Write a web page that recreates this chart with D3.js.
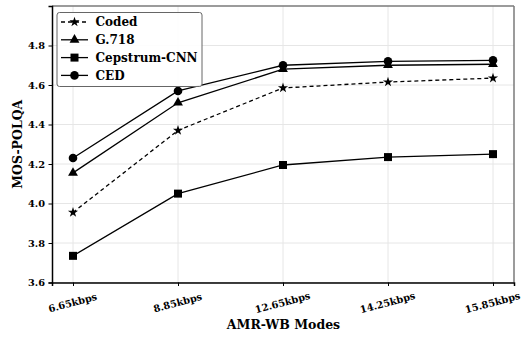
<!DOCTYPE html>
<html>
<head>
<meta charset="utf-8">
<script src="https://cdn.jsdelivr.net/npm/d3@7"></script>
<style>
  html, body { margin: 0; padding: 0; background: #fff; }
  svg { display: block; font-family: "DejaVu Serif", serif; font-weight: bold; }
</style>
</head>
<body>
<svg id="chart" width="531" height="339"></svg>
<script>
// AMR-WB modes on the x axis
const modes = ["6.65kbps", "8.85kbps", "12.65kbps", "14.25kbps", "15.85kbps"];
// MOS-POLQA scores per method
const coded = [3.955, 4.37, 4.585, 4.615, 4.635];
const g718 = [4.155, 4.51, 4.68, 4.70, 4.705];
const cepstrumCnn = [3.735, 4.05, 4.195, 4.235, 4.25];
const ced = [4.23, 4.57, 4.70, 4.72, 4.725];
const yTicks = [3.6, 3.8, 4.0, 4.2, 4.4, 4.6, 4.8];

const series = [
  { name: "Coded", values: coded, marker: "star", dash: "4,3" },
  { name: "G.718", values: g718, marker: "triangle", dash: null },
  { name: "Cepstrum-CNN", values: cepstrumCnn, marker: "square", dash: null },
  { name: "CED", values: ced, marker: "circle", dash: null }
];

const svg = d3.select("#chart");
const m = { left: 52, right: 514, top: 6, bottom: 282.5 };

const x = d3.scalePoint().domain(modes).range([m.left, m.right]).padding(0.2);
const y = d3.scaleLinear().domain([3.6, 5.0]).range([m.bottom, m.top]);

// grid
const grid = svg.append("g");
grid.selectAll(".gx").data(modes).join("line")
  .attr("x1", d => x(d)).attr("x2", d => x(d))
  .attr("y1", m.top).attr("y2", m.bottom)
  .attr("stroke", "#e6e6e6").attr("stroke-width", 1);
grid.selectAll(".gy").data(yTicks).join("line")
  .attr("x1", m.left).attr("x2", m.right)
  .attr("y1", d => y(d)).attr("y2", d => y(d))
  .attr("stroke", "#e6e6e6").attr("stroke-width", 1);

// top / right frame in grey
svg.append("line").attr("x1", m.left).attr("x2", m.right).attr("y1", m.top).attr("y2", m.top)
  .attr("stroke", "#7a7a7a").attr("stroke-width", 1.5);
svg.append("line").attr("x1", m.right).attr("x2", m.right).attr("y1", m.top).attr("y2", m.bottom)
  .attr("stroke", "#7a7a7a").attr("stroke-width", 1.5);

// axes
const xAxis = svg.append("g")
  .attr("transform", `translate(0,${m.bottom})`)
  .call(d3.axisBottom(x).tickSize(3.5).tickPadding(4));
xAxis.select(".domain").attr("stroke", "#000").attr("stroke-width", 1.5);
xAxis.selectAll("text")
  .attr("font-size", 9.8).attr("font-family", "DejaVu Serif").attr("font-weight", "bold")
  .attr("fill", "#000")
  .attr("text-anchor", "middle")
  .attr("dy", null).attr("y", 0)
  .attr("transform", "translate(0,23.5) rotate(-15)");

const yAxis = svg.append("g")
  .attr("transform", `translate(${m.left},0)`)
  .call(d3.axisLeft(y).tickValues(yTicks).tickFormat(d3.format(".1f")).tickSize(3.5).tickPadding(3.5));
yAxis.select(".domain").attr("stroke", "#000").attr("stroke-width", 1.5);
yAxis.selectAll("text")
  .attr("font-size", 9.8).attr("font-family", "DejaVu Serif").attr("font-weight", "bold")
  .attr("fill", "#000");

// axis titles
svg.append("text").attr("x", (m.left + m.right) / 2 + 0.5).attr("y", 329)
  .attr("text-anchor", "middle").attr("font-size", 12.5).text("AMR-WB Modes");
svg.append("text")
  .attr("transform", `translate(22,${(m.top + m.bottom) / 2}) rotate(-90)`)
  .attr("text-anchor", "middle").attr("font-size", 12.5).text("MOS-POLQA");

// marker shapes
const symbolFor = {
  star: d3.symbol().type(d3.symbolStar).size(32),
  triangle: d3.symbol().type(d3.symbolTriangle).size(42),
  square: d3.symbol().type(d3.symbolSquare).size(64),
  circle: d3.symbol().type(d3.symbolCircle).size(58)
};

const line = d3.line().x((d, i) => x(modes[i])).y(d => y(d));

series.forEach(s => {
  svg.append("path").datum(s.values)
    .attr("d", line).attr("fill", "none")
    .attr("stroke", "#000").attr("stroke-width", 1.3)
    .attr("stroke-dasharray", s.dash);
  svg.append("g").selectAll("path").data(s.values).join("path")
    .attr("transform", (d, i) => `translate(${x(modes[i])},${y(d)})`)
    .attr("d", symbolFor[s.marker]())
    .attr("fill", "#000");
});

// legend
const lg = svg.append("g");
lg.append("rect").attr("x", 57).attr("y", 12.5).attr("width", 145).attr("height", 74)
  .attr("rx", 2.5).attr("fill", "#fff").attr("fill-opacity", 0.9)
  .attr("stroke", "#666").attr("stroke-width", 1);
series.forEach((s, i) => {
  const cy = 22 + i * 17.8;
  lg.append("line").attr("x1", 61).attr("x2", 88).attr("y1", cy).attr("y2", cy)
    .attr("stroke", "#000").attr("stroke-width", 1.3).attr("stroke-dasharray", s.dash);
  lg.append("path").attr("transform", `translate(74.5,${cy})`)
    .attr("d", symbolFor[s.marker]()).attr("fill", "#000");
  lg.append("text").attr("x", 95.5).attr("y", cy + 4.3).attr("font-size", 12).text(s.name);
});
</script>
</body>
</html>
